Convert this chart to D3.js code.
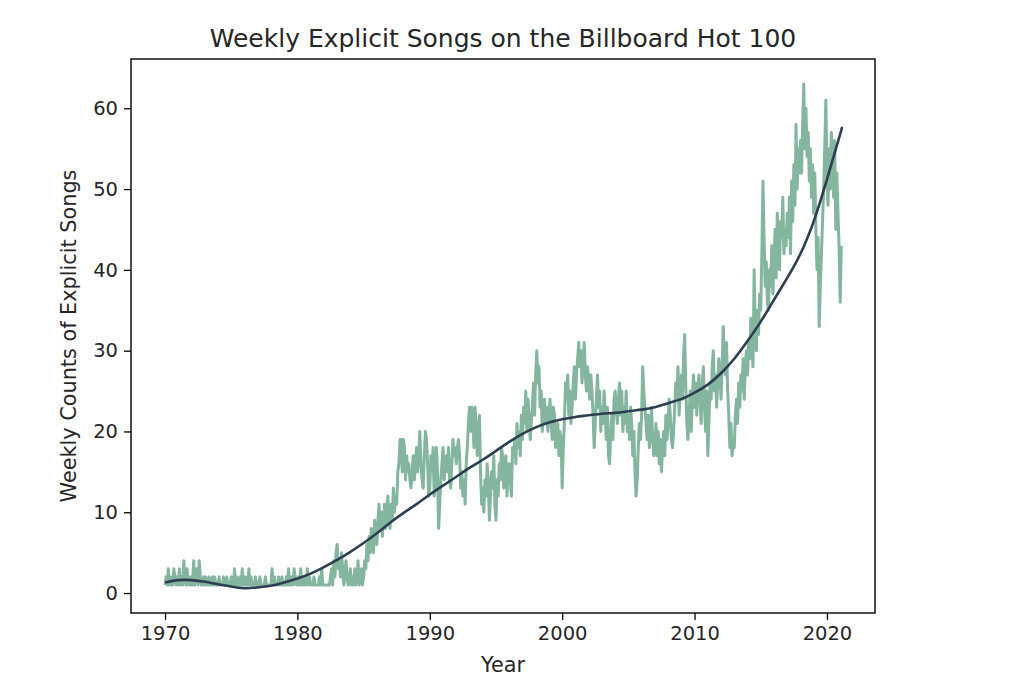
<!DOCTYPE html>
<html><head><meta charset="utf-8">
<script src="https://cdn.jsdelivr.net/npm/d3@7"></script>
<style>body{margin:0;background:#fff}svg{display:block}text{font-family:"DejaVu Sans",sans-serif;fill:#262626}</style>
</head><body><svg id="c" width="1018" height="688"></svg>
<script>
const years = d3.range(1970, 2022);
const counts = [
[1,2,1,3,1,2,1,1,3,2,1,2],
[1,3,1,2,1,4,2,1,3,1,2,1],
[2,1,4,1,2,3,1,4,2,1,1,2],
[1,2,1,1,2,1,1,2,1,2,1,1],
[1,2,1,1,1,2,1,1,2,1,1,1],
[2,1,1,3,1,2,1,1,2,1,3,1],
[1,2,1,1,3,1,2,1,1,1,2,1],
[1,1,2,1,1,1,1,2,1,1,1,1],
[1,3,1,2,1,1,1,2,1,1,2,1],
[1,1,2,1,3,1,1,2,1,3,2,1],
[1,2,1,3,1,1,2,1,1,3,1,2],
[1,1,1,2,1,1,1,1,2,1,3,1],
[1,1,1,1,1,1,2,3,1,4,2,5],
[6,3,4,2,5,3,1,2,4,2,1,2],
[3,1,2,1,3,1,2,4,1,2,3,1],
[2,4,3,6,4,7,5,8,6,5,9,7],
[6,9,11,8,10,7,9,11,8,10,12,9],
[8,11,9,13,10,12,11,15,16,19,19,15],
[19,18,14,17,15,16,14,13,15,17,14,16],
[18,15,17,20,16,14,13,17,20,19,16,12],
[13,17,15,18,12,14,18,15,8,11,14,16],
[18,14,16,17,15,18,14,13,16,19,17,18],
[16,18,19,17,13,15,12,14,11,16,18,21],
[23,20,23,22,18,23,21,17,19,22,15,11],
[13,10,14,12,16,14,9,12,15,13,17,11],
[9,14,12,16,14,18,17,13,15,17,12,15],
[16,14,12,18,17,19,16,21,18,20,17,22],
[19,23,21,25,20,24,22,19,21,23,26,22],
[27,30,26,28,23,25,20,22,24,21,23,20],
[22,24,21,19,23,22,18,20,21,17,20,19],
[13,18,21,26,24,27,22,25,21,23,26,28],
[24,27,29,31,28,30,26,29,31,27,25,28],
[26,24,27,25,22,18,21,24,27,23,25,20],
[23,21,25,22,19,23,17,16,20,22,19,24],
[25,23,21,24,26,22,25,20,23,21,25,20],
[22,19,23,21,17,20,15,12,14,18,21,19],
[22,28,25,23,21,19,22,18,20,23,19,17],
[18,21,17,20,16,19,15,18,20,17,22,19],
[21,24,22,19,18,20,23,26,24,28,22,25],
[27,24,29,32,26,21,19,22,25,20,24,27],
[23,26,22,25,27,24,21,26,28,23,20,25],
[17,21,26,24,28,30,25,27,23,26,29,27],
[24,28,33,29,27,31,25,22,18,21,17,19],
[18,22,24,21,26,23,27,25,29,24,28,30],
[27,31,29,34,30,28,40,33,30,35,32,37],
[35,42,51,44,38,41,36,35,40,38,43,37],
[41,45,39,47,43,40,46,44,49,42,45,43],
[47,44,49,42,51,46,53,48,58,50,55,52],
[56,52,58,63,55,60,54,57,51,55,49,53],
[47,52,45,40,44,33,38,42,46,50,55,61],
[52,48,55,50,57,53,49,56,45,52,47,43],
[36,43]
];
// Smoothed trend
const trendYears = [1970,1971,1972,1973,1974,1975,1976,1977,1978,1979,1980,1981,1982,1983,1984,1985,1986,1987,1988,1989,1990,1991,1992,1993,1994,1995,1996,1997,1998,1999,2000,2001,2002,2003,2004,2005,2006,2007,2008,2009,2010,2011,2012,2013,2014,2015,2016,2017,2018,2019,2020,2021,2021.08];
const trendValues = [1.3,1.6,1.6,1.4,1.1,0.8,0.6,0.7,0.9,1.3,1.8,2.4,3.2,4.1,5.1,6.2,7.4,8.7,9.9,11.0,12.2,13.3,14.4,15.5,16.5,17.6,18.7,19.7,20.5,21.1,21.5,21.8,22.0,22.2,22.3,22.5,22.7,23.0,23.5,24.0,24.8,25.8,27.2,29.0,31.2,33.6,36.3,39.0,42.0,46.0,51.2,56.8,57.3];
const xTicks = [1970,1980,1990,2000,2010,2020];
const yTicks = [0,10,20,30,40,50,60];
const titleText = "Weekly Explicit Songs on the Billboard Hot 100";
const xLabel = "Year";
const yLabel = "Weekly Counts of Explicit Songs";

const L=131,R=875,T=59,B=613;
const svg=d3.select("#c");
svg.append("rect").attr("width",1018).attr("height",688).attr("fill","#fff");
const x=d3.scaleLinear().domain([1967.43,2023.63]).range([L,R]);
const y=d3.scaleLinear().domain([-2.47,66.1]).range([B,T]);

const pts=[];
years.forEach((yr,i)=>{ (counts[i]||[]).forEach((v,j)=>pts.push([yr+j/12,v])); });

const g=svg.append("g");
g.append("path").datum(pts)
 .attr("d",d3.line().x(d=>x(d[0])).y(d=>y(d[1])))
 .attr("fill","none").attr("stroke","#84b59f").attr("stroke-width",3).attr("stroke-linejoin","round");
const tr=trendYears.map((t,i)=>[t,trendValues[i]]);
g.append("path").datum(tr)
 .attr("d",d3.line().curve(d3.curveNatural).x(d=>x(d[0])).y(d=>y(d[1])))
 .attr("fill","none").attr("stroke","#2c3e50").attr("stroke-width",2.6);

const xa=svg.append("g").attr("transform",`translate(0,${B})`)
 .call(d3.axisBottom(x).tickValues(xTicks).tickFormat(d3.format("d")).tickSize(7).tickPadding(6));
const ya=svg.append("g").attr("transform",`translate(${L},0)`)
 .call(d3.axisLeft(y).tickValues(yTicks).tickSize(7).tickPadding(6));
[xa,ya].forEach(a=>{a.select(".domain").remove();a.selectAll("line").attr("stroke","#000").attr("stroke-width",1.3);
 a.selectAll("text").attr("font-size",19.5).attr("font-family","DejaVu Sans").attr("fill","#262626");});
svg.append("rect").attr("x",L).attr("y",T).attr("width",R-L).attr("height",B-T)
 .attr("fill","none").attr("stroke","#000").attr("stroke-width",1.4);

svg.append("text").attr("x",(L+R)/2).attr("y",47).attr("text-anchor","middle").attr("font-size",25).text(titleText);
svg.append("text").attr("x",(L+R)/2).attr("y",672).attr("text-anchor","middle").attr("font-size",20.8).text(xLabel);
svg.append("text").attr("transform",`translate(76,${(T+B)/2}) rotate(-90)`).attr("text-anchor","middle").attr("font-size",20.8).text(yLabel);
</script></body></html>
